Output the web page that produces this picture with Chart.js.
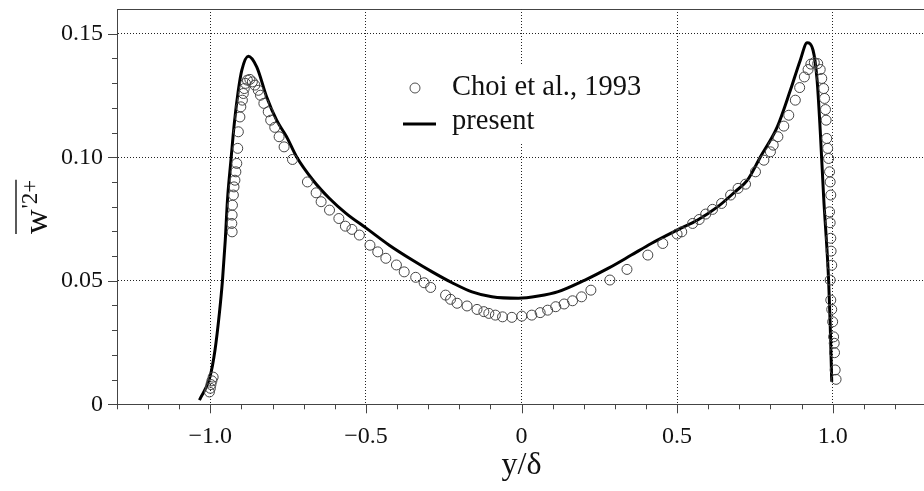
<!DOCTYPE html>
<html>
<head>
<meta charset="utf-8">
<script src="https://cdn.jsdelivr.net/npm/chart.js@4/dist/chart.umd.min.js"></script>
<style>
    html, body { margin: 0; padding: 0; background: #fff; overflow: hidden; }
    #wrap { width: 924px; height: 491px; overflow: hidden; }
</style>
</head>
<body>
<div id="wrap"><canvas id="chart" width="932" height="491"></canvas></div>
<script>

/* ---------------- DATA ---------------- */

const choiX = [-1.003, -1.000, -0.998, -0.995, -0.991,
    -0.930, -0.931, -0.930, -0.929, -0.926, -0.924, -0.921, -0.918, -0.915, -0.912,
    -0.910, -0.905, -0.902, -0.897, -0.894, -0.891, -0.887, -0.881, -0.873, -0.865,
    -0.857, -0.846, -0.839, -0.828, -0.814, -0.806, -0.793, -0.779, -0.763, -0.736,
    -0.688, -0.660, -0.644, -0.617, -0.587, -0.566, -0.545, -0.521, -0.487, -0.462,
    -0.436, -0.402, -0.377, -0.340, -0.313, -0.292, -0.244, -0.228, -0.207, -0.175,
    -0.143, -0.121, -0.105, -0.084, -0.061, -0.031, 0.001, 0.033, 0.060, 0.084,
    0.110, 0.137, 0.164, 0.193, 0.223, 0.284, 0.339, 0.406, 0.454, 0.500,
    0.515, 0.550, 0.571, 0.592, 0.614, 0.643, 0.672, 0.696, 0.720, 0.752,
    0.779, 0.800, 0.809, 0.824, 0.843, 0.859, 0.880, 0.894, 0.909, 0.921,
    0.930, 0.941, 0.952, 0.960, 0.965, 0.971, 0.974, 0.977, 0.979, 0.981,
    0.984, 0.987, 0.990, 0.992, 0.994, 0.990, 0.992, 0.994, 0.995, 0.997,
    0.992, 0.994, 0.997, 1.000, 1.003, 1.005, 1.006, 1.008, 1.011];

const choiY = [0.0050, 0.0065, 0.0080, 0.0095, 0.0110,
    0.0698, 0.0732, 0.0766, 0.0806, 0.0847, 0.0880, 0.0907, 0.0941, 0.0975, 0.1036,
    0.1103, 0.1163, 0.1204, 0.1231, 0.1258, 0.1278, 0.1299, 0.1312, 0.1315, 0.1305,
    0.1292, 0.1271, 0.1251, 0.1218, 0.1184, 0.1150, 0.1121, 0.1083, 0.1042, 0.0991,
    0.0900, 0.0856, 0.0820, 0.0786, 0.0752, 0.0721, 0.0708, 0.0685, 0.0644, 0.0617,
    0.0591, 0.0564, 0.0536, 0.0514, 0.0492, 0.0473, 0.0442, 0.0425, 0.0409, 0.0398,
    0.0384, 0.0375, 0.0368, 0.0361, 0.0354, 0.0352, 0.0357, 0.0361, 0.0371, 0.0381,
    0.0395, 0.0406, 0.0419, 0.0435, 0.0462, 0.0503, 0.0546, 0.0604, 0.0651, 0.0689,
    0.0698, 0.0732, 0.0748, 0.0770, 0.0789, 0.0813, 0.0847, 0.0874, 0.0891, 0.0941,
    0.0988, 0.1022, 0.1049, 0.1083, 0.1126, 0.1170, 0.1231, 0.1282, 0.1325, 0.1355,
    0.1377, 0.1383, 0.1379, 0.1355, 0.1319, 0.1278, 0.1238, 0.1193, 0.1150, 0.1076,
    0.1036, 0.0995, 0.0941, 0.0900, 0.0847, 0.0779, 0.0735, 0.0672, 0.0620, 0.0563,
    0.0503, 0.0422, 0.0384, 0.0334, 0.0273, 0.0247, 0.0209, 0.0139, 0.0101];

const presentX = [-1.035, -1.001, -0.985, -0.971, -0.961, -0.952, -0.945, -0.933, -0.923, -0.910,
    -0.899, -0.878, -0.851, -0.819, -0.787, -0.755, -0.723, -0.670, -0.617, -0.564,
    -0.498, -0.425, -0.351, -0.287, -0.223, -0.159, -0.095, -0.010, 0.054, 0.118,
    0.204, 0.278, 0.353, 0.417, 0.500, 0.566, 0.630, 0.687, 0.726, 0.768,
    0.822, 0.864, 0.896, 0.918, 0.937, 0.950, 0.960, 0.971, 0.987, 0.992, 0.997];

const presentY = [0.0017, 0.0112, 0.0220, 0.0368, 0.0502, 0.0665, 0.0826, 0.0999, 0.1137, 0.1271,
    0.1352, 0.1409, 0.1366, 0.1244, 0.1150, 0.1083, 0.1002, 0.0907, 0.0833, 0.0773,
    0.0712, 0.0644, 0.0584, 0.0536, 0.0492, 0.0455, 0.0435, 0.0429, 0.0438, 0.0456,
    0.0503, 0.0550, 0.0604, 0.0651, 0.0705, 0.0746, 0.0799, 0.0861, 0.0907, 0.1002,
    0.1123, 0.1271, 0.1393, 0.1463, 0.1433, 0.1312, 0.1110, 0.0840, 0.0503, 0.0328, 0.0091];

const xTickValues = [-1.0, -0.5, 0, 0.5, 1.0];
const xTickLabels = ['\u22121.0', '\u22120.5', '0', '0.5', '1.0'];
const yTickValues = [0, 0.05, 0.10, 0.15];
const yTickLabels = ['0', '0.05', '0.10', '0.15'];

const seriesNames = ['Choi et al., 1993', 'present'];

/* ---------------- STYLE ---------------- */

const SERIF = "'Liberation Serif', 'Times New Roman', serif";
const AXIS_GRAY = '#444';

function pairs(xs, ys) {
    return xs.map((x, i) => ({ x: x, y: ys[i] }));
}

/* minor + major ticks, top border */
const framePlugin = {
    id: 'frame',
    afterDraw(chart) {
        const { ctx, chartArea, scales } = chart;
        ctx.save();
        ctx.strokeStyle = AXIS_GRAY;
        ctx.lineWidth = 1;

        ctx.beginPath();
        ctx.moveTo(chartArea.left, chartArea.top + 0.5);
        ctx.lineTo(chartArea.right, chartArea.top + 0.5);
        ctx.stroke();

        for (let i = -13; i <= 13; i++) {
            const px = Math.round(scales.x.getPixelForValue(i / 10)) + 0.5;
            const len = (i % 5 === 0) ? 9 : 5;
            ctx.beginPath();
            ctx.moveTo(px, chartArea.bottom);
            ctx.lineTo(px, chartArea.bottom + len);
            ctx.stroke();
        }
        for (let j = 0; j <= 15; j++) {
            const py = Math.round(scales.y.getPixelForValue(j / 100)) + 0.5;
            const len = (j % 5 === 0) ? 9 : 5;
            ctx.beginPath();
            ctx.moveTo(chartArea.left - len, py);
            ctx.lineTo(chartArea.left, py);
            ctx.stroke();
        }
        ctx.restore();
    }
};

/* legend inside plot + y title with overline */
const labelPlugin = {
    id: 'labels',
    afterDraw(chart) {
        const ctx = chart.ctx;
        ctx.save();

        // legend box hides the grid line behind it
        ctx.fillStyle = '#fff';
        ctx.fillRect(398, 64, 250, 80);

        ctx.strokeStyle = '#505050';
        ctx.lineWidth = 1;
        ctx.beginPath();
        ctx.arc(415, 88, 5, 0, Math.PI * 2);
        ctx.stroke();

        ctx.strokeStyle = '#000';
        ctx.lineWidth = 3;
        ctx.beginPath();
        ctx.moveTo(403, 124);
        ctx.lineTo(436, 124);
        ctx.stroke();

        ctx.fillStyle = '#111';
        ctx.font = '28.5px ' + SERIF;
        ctx.textBaseline = 'middle';
        ctx.textAlign = 'left';
        ctx.fillText(seriesNames[0], 452, 88);
        ctx.fillText(seriesNames[1], 452, 122);

        // y title: overline w'2+
        ctx.translate(47, 234);
        ctx.rotate(-Math.PI / 2);
        ctx.textBaseline = 'alphabetic';
        ctx.font = '34px ' + SERIF;
        ctx.fillText('w', 0, 0);
        let wW = ctx.measureText('w').width;
        ctx.font = '23px ' + SERIF;
        ctx.fillText("'2+", wW + 1, -10);
        let supW = ctx.measureText("'2+").width;
        ctx.lineWidth = 1.3;
        ctx.beginPath();
        ctx.moveTo(0, -31);
        ctx.lineTo(wW + 1 + supW, -31);
        ctx.stroke();

        ctx.restore();
    }
};

/* ---------------- CHART ---------------- */

new Chart(document.getElementById('chart'), {
    type: 'scatter',
    data: {
        datasets: [
            {
                label: seriesNames[0],
                data: pairs(choiX, choiY),
                pointStyle: 'circle',
                pointRadius: 5,
                pointBorderWidth: 1,
                pointBorderColor: '#444',
                pointBackgroundColor: 'rgba(0,0,0,0)',
                showLine: false
            },
            {
                label: seriesNames[1],
                data: pairs(presentX, presentY),
                showLine: true,
                borderColor: '#000',
                borderWidth: 3,
                pointRadius: 0,
                cubicInterpolationMode: 'monotone'
            }
        ]
    },
    options: {
        responsive: false,
        animation: false,
        layout: { padding: { top: 9, right: 2, left: 0, bottom: 0 } },
        plugins: { legend: { display: false }, tooltip: { enabled: false } },
        scales: {
            x: {
                type: 'linear',
                min: -1.3,
                max: 1.3,
                afterBuildTicks: s => { s.ticks = xTickValues.map(v => ({ value: v })); },
                afterFit: s => { s.height = 86.7; s.paddingLeft = 0; s.paddingRight = 0; },
                ticks: {
                    autoSkip: false,
                    maxRotation: 0,
                    padding: 9,
                    color: '#111',
                    font: { family: SERIF, size: 24 },
                    callback: (v) => xTickLabels[xTickValues.indexOf(v)]
                },
                grid: {
                    color: '#222',
                    lineWidth: 1,
                    tickLength: 9,
                    tickColor: 'rgba(0,0,0,0)'
                },
                border: { display: true, color: AXIS_GRAY, width: 1, dash: [1, 2] },
                title: {
                    display: true,
                    text: 'y/\u03b4',
                    color: '#111',
                    font: { family: SERIF, size: 32 },
                    padding: { top: 0, bottom: 6 }
                }
            },
            y: {
                type: 'linear',
                min: 0,
                max: 0.16,
                afterBuildTicks: s => { s.ticks = yTickValues.map(v => ({ value: v })); },
                afterFit: s => { s.width = 117; s.paddingTop = 0; s.paddingBottom = 0; },
                ticks: {
                    autoSkip: false,
                    padding: 5,
                    color: '#111',
                    font: { family: SERIF, size: 24 },
                    callback: (v) => yTickLabels[yTickValues.indexOf(v)]
                },
                grid: {
                    color: ctx => (ctx.tick && ctx.tick.value === 0) ? 'rgba(0,0,0,0)' : '#222',
                    lineWidth: 1,
                    tickLength: 9,
                    tickColor: 'rgba(0,0,0,0)'
                },
                border: { display: true, color: AXIS_GRAY, width: 1, dash: [1, 2] }
            }
        }
    },
    plugins: [framePlugin, labelPlugin]
});

</script>
</body>
</html>
